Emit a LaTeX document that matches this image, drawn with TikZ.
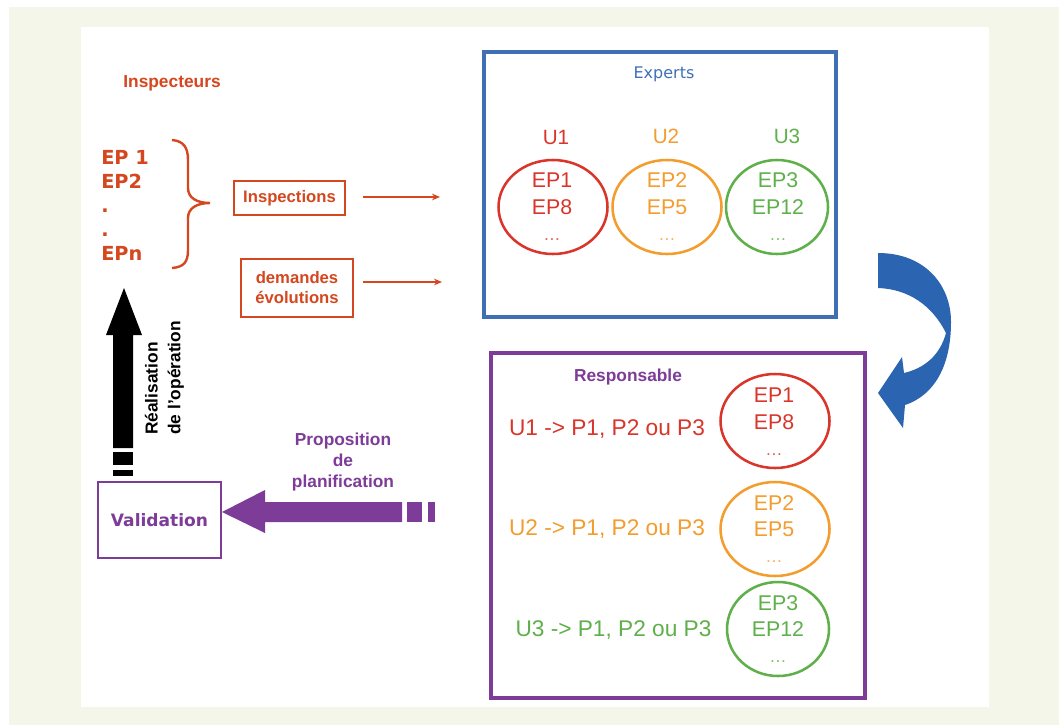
\documentclass[tikz,border=0pt]{standalone}
\usepackage{fontspec}
\setmainfont{Liberation Sans}
\newfontfamily\dvs{DejaVu Sans}
\usetikzlibrary{shapes.geometric,arrows.meta}
\definecolor{insp}{HTML}{D4471F}
\definecolor{ured}{HTML}{D9352B}
\definecolor{uorange}{HTML}{F29D2E}
\definecolor{ugreen}{HTML}{5FB04B}
\definecolor{bluebox}{HTML}{3F70B6}
\definecolor{bluearrow}{HTML}{2B64B0}
\definecolor{purp}{HTML}{7D3C98}
\definecolor{bggreen}{HTML}{F3F6E8}
\tikzset{
  inspbox/.style={draw=insp, line width=1.9pt, text=insp, align=center, inner sep=0pt,
    font=\bfseries\fontsize{12.5pt}{15pt}\selectfont},
  flowarrow/.style={draw=insp, line width=1.3pt, -{Stealth[length=6pt,width=5pt]}},
  ulabel/.style={font=\fontsize{15.5pt}{18pt}\selectfont},
  eptext/.style={font=\fontsize{16pt}{18pt}\selectfont},
  dots/.style={font=\fontsize{13pt}{14pt}\selectfont},
  epcircle/.style={ellipse, draw, line width=1.9pt, minimum width=81.75pt, minimum height=70.5pt, inner sep=0pt},
  utext/.style={font=\fontsize{17pt}{19pt}\selectfont},
  bigbox/.style={line width=2.3pt},
}
\begin{document}
\begin{tikzpicture}[x=0.75pt,y=-0.75pt]
\useasboundingbox (0,0) rectangle (1059,725);
\fill[white] (0,0) rectangle (1059,725);
\fill[bggreen] (9,7) rectangle (1059,725);
\fill[white] (81,27) rectangle (989,707);

% Inspecteurs column
\node[text=insp, font=\bfseries\fontsize{13pt}{15pt}\selectfont] (inspecteurs) at (172,83) {Inspecteurs};
\node[anchor=west, align=left, text=insp, inner sep=0pt,
      font=\dvs\bfseries\fontsize{14.5pt}{18pt}\selectfont] (eplist) at (101,205) {EP 1\\EP2\\.\\.\\EPn};
\draw[insp, line width=1.8pt] (172,140) .. controls (184,141) and (188,148) .. (188,160) -- (188,188)
  .. controls (188,198) and (197,203) .. (210,203)
  .. controls (197,203) and (188,208) .. (188,218) -- (188,250)
  .. controls (188,262) and (184,267) .. (172,268);

\node[inspbox, minimum width=83.25pt, minimum height=25.5pt] (inspections) at (289.5,198) {Inspections};
\node[inspbox, line width=2.2pt, minimum width=84pt, minimum height=43.5pt] (demandes) at (297,288) {demandes\\évolutions};
\coordinate (a1s) at (363,197);
\coordinate (a1e) at (440,197);
\coordinate (a2s) at (363,282);
\coordinate (a2e) at (442,282);
\draw[flowarrow] (a1s) -- (a1e);
\draw[flowarrow] (a2s) -- (a2e);

% black arrow
\fill[black] (113,448) -- (113,335) -- (106,335) -- (124,288) -- (142,335) -- (133,335) -- (133,448) -- cycle;
\fill[black] (113,452) rectangle (133,465);
\fill[black] (113,470) rectangle (133,476);
\node[rotate=90, align=left, font=\bfseries\fontsize{13pt}{17pt}\selectfont] (realisation) at (164.5,378) {Réalisation\\de l'opération};

% Validation
\node[draw=purp, line width=1.2pt, minimum width=92.25pt, minimum height=57pt, text=purp,
      font=\dvs\bfseries\fontsize{12.8pt}{15pt}\selectfont] (validation) at (159.5,520) {Validation};
\fill[purp] (402,502) -- (265,502) -- (265,490) -- (222,512) -- (265,533) -- (265,522) -- (402,522) -- cycle;
\fill[purp] (407,502) rectangle (422,522);
\fill[purp] (428,502) rectangle (435,522);
\node[align=center, text=purp, font=\bfseries\fontsize{13pt}{15.4pt}\selectfont] (proposition) at (343,462) {Proposition\\de\\planification};

% Experts box
\draw[bluebox, bigbox] (484,52) rectangle (836,317);
\node[text=bluebox, font=\dvs\fontsize{12pt}{14pt}\selectfont] (experts) at (664,74) {Experts};
\node[ulabel, text=ured] (u1) at (556,137) {U1};
\node[ulabel, text=uorange] (u2) at (666,136) {U2};
\node[ulabel, text=ugreen] (u3) at (787,136) {U3};
\node[epcircle, draw=ured] (e1) at (553,207) {};
\node[epcircle, draw=uorange] (e2) at (667,207) {};
\node[epcircle, draw=ugreen, minimum width=76.5pt] (e3) at (777,207) {};
\node[eptext, text=ured] (e1a) at (552,180) {EP1};
\node[eptext, text=ured] (e1b) at (552,207) {EP8};
\node[dots, text=ured!80] (e1c) at (552,240) {…};
\node[eptext, text=uorange] (e2a) at (667,180) {EP2};
\node[eptext, text=uorange] (e2b) at (667,207) {EP5};
\node[dots, text=uorange!80] (e2c) at (667,240) {…};
\node[eptext, text=ugreen] (e3a) at (778,180) {EP3};
\node[eptext, text=ugreen] (e3b) at (778,207) {EP12};
\node[dots, text=ugreen!80] (e3c) at (778,240) {…};

% curved blue arrow
\fill[bluearrow] (878,253) .. controls (925,253) and (951,285) .. (951,322)
  .. controls (951,365) and (935,395) .. (905,405)
  -- (903,428) -- (878,393) -- (902,357) -- (904,373)
  .. controls (925,368) and (940,355) .. (946,333)
  .. controls (932,305) and (908,289) .. (878,288) -- cycle;

% Responsable box
\draw[purp, bigbox] (491,353) rectangle (865,698);
\node[text=purp, font=\bfseries\fontsize{13pt}{15pt}\selectfont] (responsable) at (628,377) {Responsable};
\node[utext, text=ured] (r1) at (607,429) {U1 -> P1, P2 ou P3};
\node[utext, text=uorange] (r2) at (607,529) {U2 -> P1, P2 ou P3};
\node[utext, text=ugreen] (r3) at (613.5,630) {U3 -> P1, P2 ou P3};
\node[epcircle, draw=ured] (f1) at (775,421) {};
\node[epcircle, draw=uorange] (f2) at (775,529) {};
\node[epcircle, draw=ugreen, minimum width=76.5pt] (f3) at (778,629) {};
\node[eptext, text=ured] (f1a) at (774,395) {EP1};
\node[eptext, text=ured] (f1b) at (774,422) {EP8};
\node[dots, text=ured!80] (f1c) at (774,455) {…};
\node[eptext, text=uorange] (f2a) at (774,503) {EP2};
\node[eptext, text=uorange] (f2b) at (774,529) {EP5};
\node[dots, text=uorange!80] (f2c) at (774,562) {…};
\node[eptext, text=ugreen] (f3a) at (778,603) {EP3};
\node[eptext, text=ugreen] (f3b) at (778,629) {EP12};
\node[dots, text=ugreen!80] (f3c) at (778,662) {…};
\end{tikzpicture}
\end{document}
